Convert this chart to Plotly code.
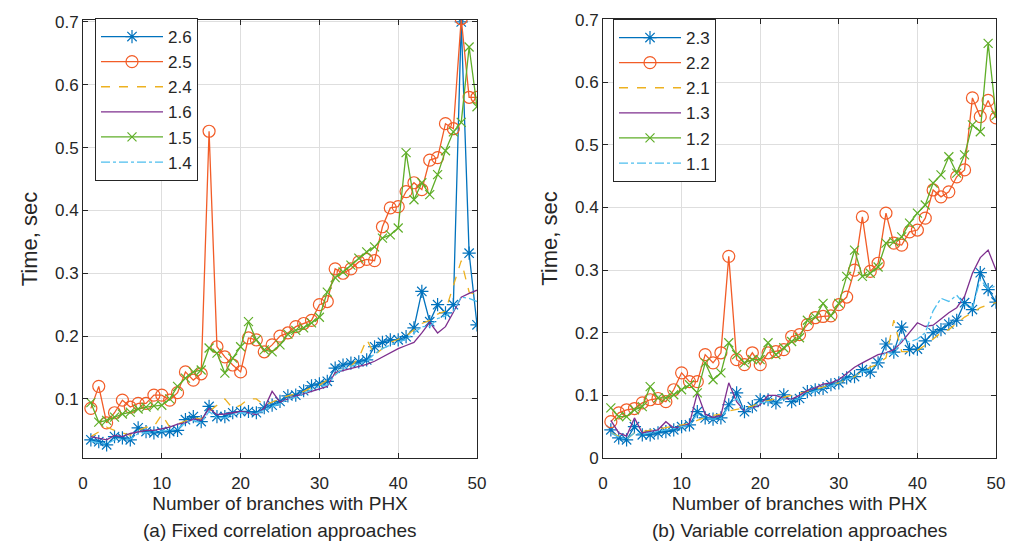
import plotly.graph_objects as go

# Number of branches with PHX
branches = list(range(1, 51))

# (a) Fixed correlation approaches, time in seconds
fixed_names = ["2.6", "2.5", "2.4", "1.6", "1.5", "1.4"]
fixed_26 = [0.035, 0.032, 0.027, 0.040, 0.038, 0.035, 0.054, 0.048, 0.046, 0.048,
            0.048, 0.050, 0.067, 0.072, 0.064, 0.088, 0.072, 0.072, 0.078, 0.080,
            0.080, 0.078, 0.086, 0.090, 0.096, 0.105, 0.106, 0.113, 0.121, 0.124,
            0.128, 0.149, 0.154, 0.157, 0.159, 0.162, 0.183, 0.190, 0.194, 0.194,
            0.199, 0.213, 0.271, 0.223, 0.250, 0.237, 0.250, 0.700, 0.332, 0.218]
fixed_25 = [0.085, 0.120, 0.062, 0.078, 0.098, 0.087, 0.093, 0.093, 0.106, 0.106,
            0.098, 0.110, 0.143, 0.130, 0.140, 0.526, 0.183, 0.167, 0.154, 0.143,
            0.197, 0.194, 0.175, 0.186, 0.200, 0.205, 0.215, 0.220, 0.225, 0.250,
            0.255, 0.307, 0.300, 0.307, 0.318, 0.322, 0.320, 0.374, 0.404, 0.406,
            0.430, 0.444, 0.433, 0.480, 0.484, 0.538, 0.530, 0.705, 0.580, 0.580]
fixed_24 = [0.040, 0.048, 0.055, 0.050, 0.046, 0.042, 0.050, 0.055, 0.056, 0.075,
            0.055, 0.060, 0.065, 0.070, 0.068, 0.080, 0.090, 0.100, 0.085, 0.090,
            0.100, 0.100, 0.090, 0.095, 0.100, 0.105, 0.108, 0.112, 0.118, 0.122,
            0.130, 0.140, 0.148, 0.152, 0.165, 0.195, 0.170, 0.180, 0.190, 0.195,
            0.200, 0.210, 0.220, 0.225, 0.235, 0.240, 0.280, 0.320, 0.270, 0.265]
fixed_16 = [0.040, 0.038, 0.035, 0.042, 0.040, 0.045, 0.048, 0.050, 0.050, 0.052,
            0.055, 0.060, 0.062, 0.068, 0.066, 0.085, 0.075, 0.076, 0.078, 0.080,
            0.078, 0.075, 0.085, 0.112, 0.095, 0.100, 0.105, 0.108, 0.112, 0.115,
            0.120, 0.142, 0.145, 0.148, 0.152, 0.155, 0.160, 0.167, 0.174, 0.180,
            0.185, 0.190, 0.205, 0.222, 0.205, 0.215, 0.238, 0.262, 0.268, 0.273]
fixed_15 = [0.094, 0.063, 0.066, 0.071, 0.076, 0.079, 0.084, 0.087, 0.089, 0.090,
            0.100, 0.120, 0.133, 0.143, 0.146, 0.181, 0.173, 0.141, 0.165, 0.183,
            0.223, 0.194, 0.178, 0.175, 0.186, 0.203, 0.209, 0.213, 0.221, 0.230,
            0.270, 0.293, 0.302, 0.313, 0.324, 0.334, 0.342, 0.356, 0.361, 0.372,
            0.492, 0.417, 0.444, 0.425, 0.457, 0.495, 0.525, 0.540, 0.660, 0.565]
fixed_14 = [0.033, 0.030, 0.028, 0.035, 0.036, 0.036, 0.045, 0.046, 0.047, 0.048,
            0.050, 0.052, 0.062, 0.066, 0.062, 0.080, 0.070, 0.070, 0.075, 0.078,
            0.078, 0.077, 0.082, 0.088, 0.092, 0.100, 0.103, 0.108, 0.115, 0.120,
            0.122, 0.138, 0.148, 0.152, 0.156, 0.160, 0.172, 0.180, 0.186, 0.190,
            0.195, 0.205, 0.215, 0.215, 0.228, 0.232, 0.240, 0.262, 0.260, 0.255]

# (b) Variable correlation approaches, time in seconds
variable_names = ["2.3", "2.2", "2.1", "1.3", "1.2", "1.1"]
var_23 = [0.045, 0.032, 0.029, 0.050, 0.037, 0.037, 0.040, 0.042, 0.045, 0.050,
          0.053, 0.074, 0.064, 0.062, 0.064, 0.085, 0.104, 0.074, 0.082, 0.093,
          0.093, 0.088, 0.101, 0.090, 0.095, 0.106, 0.109, 0.111, 0.117, 0.120,
          0.128, 0.130, 0.141, 0.137, 0.152, 0.182, 0.169, 0.209, 0.173, 0.174,
          0.187, 0.200, 0.205, 0.214, 0.220, 0.248, 0.237, 0.296, 0.269, 0.249]
var_22 = [0.058, 0.072, 0.077, 0.079, 0.088, 0.093, 0.095, 0.090, 0.109, 0.136,
          0.122, 0.122, 0.165, 0.152, 0.168, 0.322, 0.157, 0.149, 0.168, 0.149,
          0.168, 0.170, 0.173, 0.194, 0.197, 0.213, 0.224, 0.226, 0.227, 0.245,
          0.257, 0.300, 0.385, 0.298, 0.311, 0.391, 0.343, 0.340, 0.361, 0.364,
          0.383, 0.428, 0.417, 0.425, 0.449, 0.460, 0.575, 0.545, 0.571, 0.543]
var_21 = [0.040, 0.035, 0.030, 0.040, 0.042, 0.044, 0.046, 0.048, 0.050, 0.052,
          0.055, 0.060, 0.065, 0.068, 0.070, 0.075, 0.078, 0.080, 0.083, 0.088,
          0.092, 0.095, 0.097, 0.100, 0.103, 0.107, 0.110, 0.113, 0.117, 0.120,
          0.125, 0.130, 0.138, 0.145, 0.150, 0.160, 0.220, 0.170, 0.170, 0.172,
          0.180, 0.190, 0.200, 0.205, 0.215, 0.225, 0.232, 0.240, 0.245, 0.248]
var_13 = [0.060, 0.040, 0.035, 0.064, 0.040, 0.042, 0.045, 0.058, 0.048, 0.050,
          0.055, 0.104, 0.070, 0.065, 0.068, 0.120, 0.090, 0.075, 0.080, 0.085,
          0.100, 0.100, 0.095, 0.094, 0.100, 0.108, 0.112, 0.118, 0.120, 0.125,
          0.135, 0.145, 0.152, 0.158, 0.165, 0.168, 0.173, 0.185, 0.200, 0.216,
          0.210, 0.212, 0.222, 0.232, 0.240, 0.258, 0.295, 0.320, 0.332, 0.300]
var_12 = [0.080, 0.066, 0.066, 0.077, 0.082, 0.114, 0.096, 0.096, 0.101, 0.109,
          0.117, 0.104, 0.152, 0.125, 0.136, 0.184, 0.165, 0.152, 0.157, 0.157,
          0.184, 0.165, 0.176, 0.186, 0.192, 0.220, 0.225, 0.247, 0.227, 0.247,
          0.290, 0.332, 0.290, 0.295, 0.305, 0.343, 0.345, 0.353, 0.375, 0.391,
          0.404, 0.439, 0.452, 0.481, 0.455, 0.484, 0.532, 0.521, 0.662, 0.547]
var_11 = [0.040, 0.033, 0.030, 0.040, 0.038, 0.040, 0.042, 0.045, 0.047, 0.050,
          0.052, 0.070, 0.063, 0.062, 0.063, 0.082, 0.095, 0.075, 0.080, 0.088,
          0.090, 0.088, 0.095, 0.092, 0.095, 0.103, 0.107, 0.110, 0.115, 0.120,
          0.126, 0.130, 0.138, 0.140, 0.150, 0.170, 0.165, 0.190, 0.185, 0.190,
          0.200, 0.235, 0.255, 0.250, 0.260, 0.245, 0.240, 0.285, 0.270, 0.275]

x_ticks = [0, 10, 20, 30, 40, 50]
y_ticks = [0, 0.1, 0.2, 0.3, 0.4, 0.5, 0.6, 0.7]
y_tick_text = ["0", "0.1", "0.2", "0.3", "0.4", "0.5", "0.6", "0.7"]

FONT = "Liberation Sans, Arial, sans-serif"
TXT = "#262626"

# line/marker style for each of the six series (same order in both panels)
styles = [
    dict(color="#0072BD", dash="solid", symbol="asterisk-open", size=11),
    dict(color="#F25C27", dash="solid", symbol="circle-open", size=12),
    dict(color="#EDB120", dash="dash", symbol=None, size=0),
    dict(color="#7E2F8E", dash="solid", symbol=None, size=0),
    dict(color="#5FAE28", dash="solid", symbol="x-thin-open", size=9),
    dict(color="#4DBEEE", dash="dashdot", symbol=None, size=0),
]

fig = go.Figure()


def add_series(values, name, st, xaxis, yaxis, legend):
    mode = "lines+markers" if st["symbol"] else "lines"
    marker = None
    if st["symbol"]:
        marker = dict(symbol=st["symbol"], size=st["size"], color=st["color"],
                      line=dict(color=st["color"], width=1.2))
    fig.add_trace(go.Scatter(
        x=branches, y=values, name=name, mode=mode,
        line=dict(color=st["color"], width=1.3, dash=st["dash"]),
        marker=marker, xaxis=xaxis, yaxis=yaxis, legend=legend,
    ))


fixed_series = [fixed_26, fixed_25, fixed_24, fixed_16, fixed_15, fixed_14]
variable_series = [var_23, var_22, var_21, var_13, var_12, var_11]

for vals, nm, st in zip(fixed_series, fixed_names, styles):
    add_series(vals, nm, st, "x", "y", "legend")
for vals, nm, st in zip(variable_series, variable_names, styles):
    add_series(vals, nm, st, "x2", "y2", "legend2")

W, H = 1010, 543


def xdom(a, b):
    return [a / W, b / W]


def ydom(top, bottom):
    return [1 - bottom / H, 1 - top / H]


axis_common = dict(
    showline=True, linecolor=TXT, linewidth=1, mirror="ticks",
    ticks="inside", ticklen=5, tickcolor=TXT, tickwidth=1,
    showgrid=True, gridcolor="#DEDEDE", gridwidth=1,
    zeroline=False, automargin=False,
    tickfont=dict(family=FONT, size=17, color=TXT),
)

xaxis_common = dict(axis_common, range=[0, 50], tickvals=x_ticks,
                    ticklabelstandoff=10,
                    title=dict(text="Number of branches with PHX", standoff=3,
                               font=dict(family=FONT, size=19, color=TXT)))

yaxis_common = dict(axis_common, tickvals=y_ticks, ticktext=y_tick_text,
                    title=dict(text="Time, sec", standoff=11,
                               font=dict(family=FONT, size=22, color=TXT)))

legend_common = dict(
    bgcolor="white", bordercolor=TXT, borderwidth=1,
    font=dict(family=FONT, size=17, color=TXT),
    xanchor="left", yanchor="top", tracegroupgap=0, itemwidth=62,
)

fig.update_layout(
    width=W, height=H,
    margin=dict(l=0, r=0, t=0, b=0),
    paper_bgcolor="white", plot_bgcolor="white",
    xaxis=dict(xaxis_common, domain=xdom(83, 477), anchor="y"),
    yaxis=dict(yaxis_common, domain=ydom(20, 458), range=[0.006, 0.703], anchor="x"),
    xaxis2=dict(xaxis_common, domain=xdom(603, 996), anchor="y2"),
    yaxis2=dict(yaxis_common, domain=ydom(19, 458), range=[0, 0.701], anchor="x2"),
    legend=dict(legend_common, x=95 / W, y=1 - 18 / H),
    legend2=dict(legend_common, x=613 / W, y=1 - 19 / H),
    showlegend=True,
    annotations=[
        dict(text="(a) Fixed correlation approaches", x=(83 + 477) / 2 / W,
             y=1 - 530 / H, xref="paper", yref="paper", showarrow=False,
             xanchor="center", yanchor="middle",
             font=dict(family=FONT, size=19, color=TXT)),
        dict(text="(b) Variable correlation approaches", x=(603 + 996) / 2 / W,
             y=1 - 530 / H, xref="paper", yref="paper", showarrow=False,
             xanchor="center", yanchor="middle",
             font=dict(family=FONT, size=19, color=TXT)),
    ],
)

fig.write_html("out.html")
